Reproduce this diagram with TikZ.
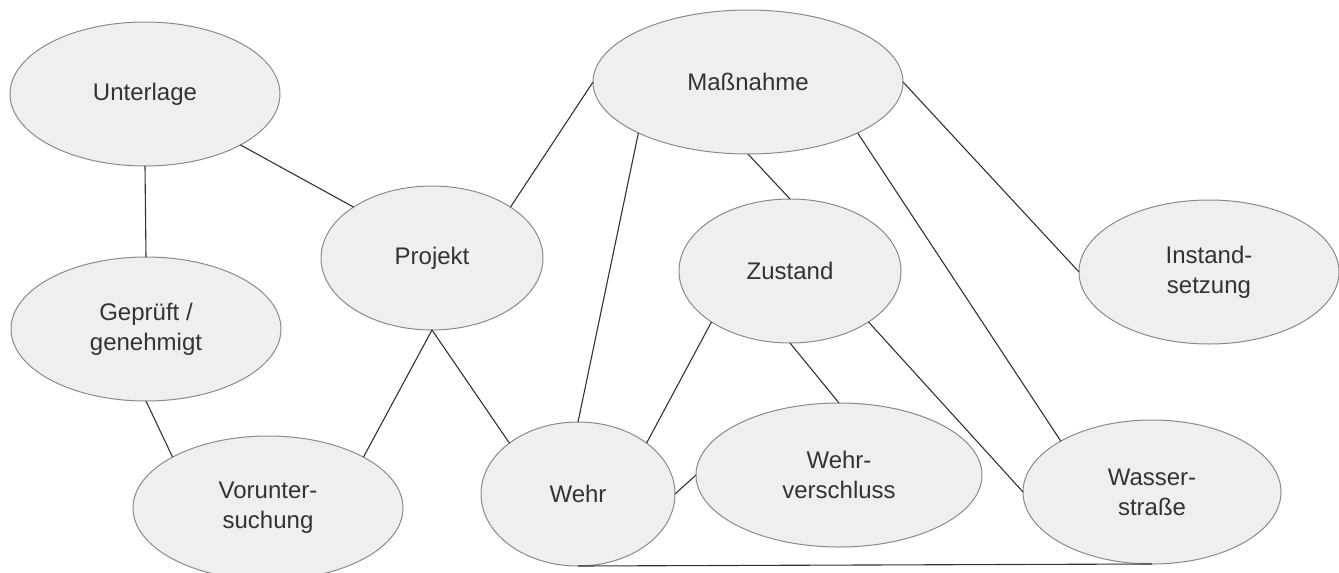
\documentclass[tikz,border=0pt]{standalone}
\usepackage{fontspec}
\setmainfont{Liberation Sans}
\usetikzlibrary{shapes.geometric,calc}
\definecolor{efill}{HTML}{EFEFEF}
\definecolor{estroke}{HTML}{8A8A8A}
\definecolor{edgec}{HTML}{333333}
\definecolor{txt}{HTML}{333333}
\begin{document}
\begin{tikzpicture}[x=1pt,y=-1pt,
  ent/.style={ellipse, fill=efill, draw=estroke, line width=1pt, inner sep=0pt, outer sep=0pt,
    align=center, text=txt, font=\fontsize{24}{30}\selectfont, minimum height=144pt},
  link/.style={draw=edgec, line width=1.1pt}]
\useasboundingbox (0,0) rectangle (1339,573);
\node[ent, minimum width=270pt] (U) at (145,94) {Unterlage};
\node[ent, minimum width=270pt] (G) at (146,329) {Geprüft /\\genehmigt};
\node[ent, minimum width=270pt] (V) at (268,508) {Vorunter-\\suchung};
\node[ent, minimum width=222pt] (P) at (432,258) {Projekt};
\node[ent, minimum width=194pt] (W) at (578,494) {Wehr};
\node[ent, minimum width=310pt] (M) at (748,82) {Maßnahme};
\node[ent, minimum width=222pt] (Z) at (790,271) {Zustand};
\node[ent, minimum width=286pt] (WV) at (839,475) {Wehr-\\verschluss};
\node[ent, minimum width=258pt] (WS) at (1152,492) {Wasser-\\straße};
\node[ent, minimum width=260pt] (I) at (1209,272) {Instand-\\setzung};
\draw[link] (U.south) -- (G.north);
\draw[link] (U.south east) -- (P.north west);
\draw[link] (P.north east) -- (M.west);
\draw[link] (G.south) -- (V.north west);
\draw[link] (P.south) -- (V.north east);
\draw[link] (P.south) -- (W.north west);
\draw[link] (M.south west) -- (W.north);
\draw[link] (M.south) -- (Z.north);
\draw[link] (M.east) -- (I.west);
\draw[link] (M.south east) -- (WS.north west);
\draw[link] (Z.south west) -- (W.north east);
\draw[link] (Z.south) -- (WV.north);
\draw[link] (Z.south east) -- (WS.west);
\draw[link] (W.east) -- (WV.west);
\draw[link] (W.south) -- (WS.south);
\end{tikzpicture}
\end{document}
